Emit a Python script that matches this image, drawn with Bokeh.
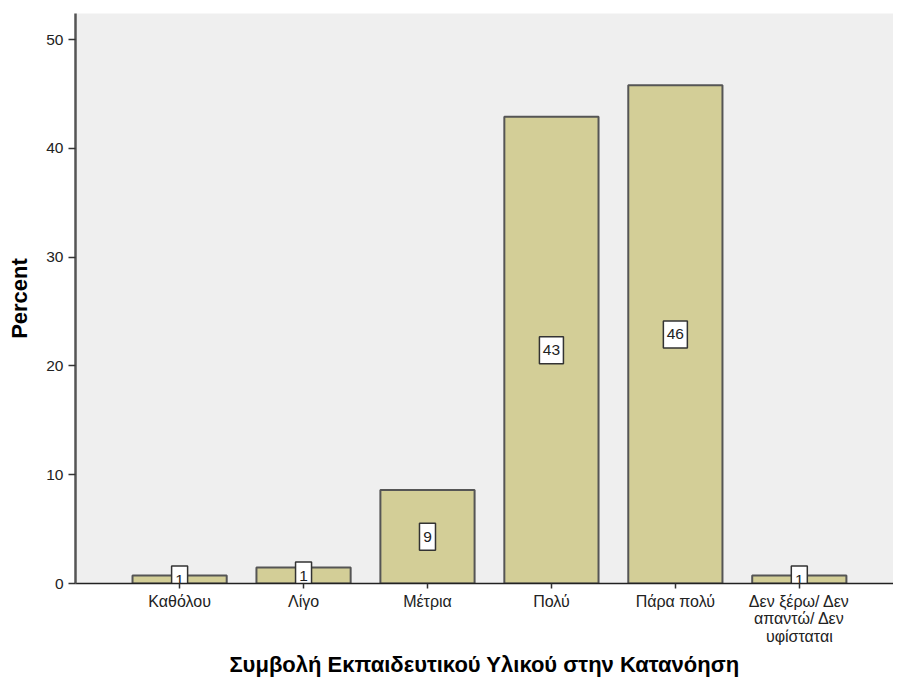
from bokeh.plotting import figure
from bokeh.models import Range1d, FixedTicker, ColumnDataSource
from bokeh.core.properties import value
from bokeh.embed import file_html
from bokeh.resources import INLINE

categories = ["Καθόλου", "Λίγο", "Μέτρια", "Πολύ", "Πάρα πολύ", "Δεν ξέρω/ Δεν\nαπαντώ/ Δεν\nυφίσταται"]
percent = [0.73, 1.46, 8.6, 42.9, 45.8, 0.73]
y_ticks = [0, 10, 20, 30, 40, 50]

xs = list(range(1, len(categories) + 1))
labels = [str(int(round(v))) for v in percent]
src = ColumnDataSource(dict(
    x=xs, top=percent, mid=[v / 2 for v in percent], lab=labels,
    bw=[8 + 8 * len(s) for s in labels],
))

FONT = "Liberation Sans"

p = figure(width=893, height=680, output_backend="svg", toolbar_location=None,
           x_range=Range1d(0.16, 6.76), y_range=Range1d(0, 52.4),
           min_border_left=75, min_border_top=13, min_border_right=0, min_border_bottom=95)
p.background_fill_color = "#EFEFEF"
p.border_fill_color = "white"
p.outline_line_color = None
p.grid.grid_line_color = None

p.vbar(x="x", top="top", bottom=0, width=0.76, source=src,
       fill_color="#D3CE97", line_color="#555555", line_width=2)

p.rect(x="x", y="mid", width="bw", height=27, width_units="screen", height_units="screen",
       source=src, fill_color="white", line_color="#333333", line_width=1.5)
p.text(x="x", y="mid", text="lab", source=src, text_align="center", text_baseline="middle",
       text_font=value(FONT), text_font_size="15.5px", text_color="#222222")

p.xaxis.ticker = FixedTicker(ticks=xs)
p.xaxis.major_label_overrides = {x: c for x, c in zip(xs, categories)}
p.yaxis.ticker = FixedTicker(ticks=y_ticks)

for ax in (p.xaxis, p.yaxis):
    ax.major_label_text_font = FONT
    ax.major_label_text_line_height = 1.05
    ax.major_label_text_color = "#222222"
    ax.axis_label_text_font = FONT
    ax.axis_label_text_font_style = "bold"
    ax.axis_label_text_font_size = "22px"
    ax.axis_label_text_color = "black"
    ax.minor_tick_line_color = None
    ax.major_tick_in = 0
    ax.major_tick_line_color = "#333333"
    ax.major_tick_line_width = 1.5

p.xaxis.major_label_text_font_size = "16px"
p.yaxis.major_label_text_font_size = "15.5px"
p.xaxis.axis_label = "Συμβολή Εκπαιδευτικού Υλικού στην Κατανόηση"
p.yaxis.axis_label = "Percent"
p.xaxis.axis_line_color = "#222222"
p.xaxis.axis_line_width = 1.5
p.yaxis.axis_line_color = "#555555"
p.yaxis.axis_line_width = 2.5
p.xaxis.major_tick_out = 5
p.yaxis.major_tick_out = 7
p.xaxis.major_label_standoff = 4
p.xaxis.axis_label_standoff = 4
p.yaxis.major_label_standoff = 5
p.yaxis.axis_label_standoff = 11

open("out.html", "w").write(file_html(p, INLINE))
